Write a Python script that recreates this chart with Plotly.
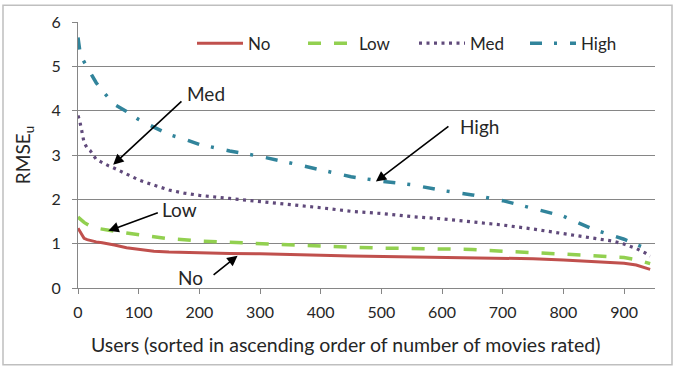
import plotly.graph_objects as go

users = [0, 3, 6, 10, 15, 20, 30, 40, 50, 60, 80, 100, 125, 150, 175, 200, 250, 300, 350,
         400, 450, 500, 550, 600, 650, 700, 750, 800, 850, 880, 900, 920, 935, 943]

rmse_no = [1.35, 1.28, 1.20, 1.12, 1.09, 1.07, 1.04, 1.02, 1.00, 0.97, 0.91, 0.88, 0.83, 0.81,
           0.80, 0.80, 0.78, 0.77, 0.76, 0.74, 0.72, 0.71, 0.70, 0.69, 0.68, 0.67, 0.66, 0.63,
           0.60, 0.57, 0.56, 0.52, 0.45, 0.42]

rmse_low = [1.60, 1.56, 1.52, 1.48, 1.44, 1.40, 1.35, 1.32, 1.30, 1.28, 1.24, 1.20, 1.15, 1.11,
            1.09, 1.06, 1.03, 1.00, 0.97, 0.94, 0.92, 0.90, 0.89, 0.88, 0.87, 0.83, 0.80, 0.77,
            0.73, 0.70, 0.69, 0.64, 0.58, 0.55]

rmse_med = [3.89, 3.76, 3.56, 3.28, 3.16, 3.10, 2.90, 2.82, 2.76, 2.70, 2.57, 2.44, 2.32, 2.21,
            2.14, 2.09, 2.02, 1.95, 1.89, 1.81, 1.73, 1.68, 1.61, 1.56, 1.49, 1.42, 1.33, 1.23,
            1.13, 1.06, 0.99, 0.89, 0.79, 0.72]

rmse_high = [5.65, 5.35, 5.20, 5.10, 4.98, 4.85, 4.63, 4.45, 4.30, 4.14, 3.98, 3.80, 3.63, 3.46,
             3.36, 3.24, 3.09, 2.97, 2.82, 2.66, 2.51, 2.41, 2.33, 2.20, 2.10, 1.97, 1.80, 1.62,
             1.32, 1.19, 1.10, 0.98, 0.90, None]

series_names = ["No", "Low", "Med", "High"]
x_ticks = [0, 100, 200, 300, 400, 500, 600, 700, 800, 900]
y_ticks = [0, 1, 2, 3, 4, 5, 6]
x_title = "Users (sorted in ascending order of number of movies rated)"

FONT = "Lato"
TXT = "#262626"

fig = go.Figure()
fig.add_trace(go.Scatter(x=users, y=rmse_no, name=series_names[0], mode="lines",
                         line=dict(color="#C0504D", width=3)))
fig.add_trace(go.Scatter(x=users, y=rmse_low, name=series_names[1], mode="lines",
                         line=dict(color="#92D050", width=3.5, dash="13px,13px")))
fig.add_trace(go.Scatter(x=users, y=rmse_med, name=series_names[2], mode="lines",
                         line=dict(color="#604A7B", width=3.2, dash="3px,4.5px")))
fig.add_trace(go.Scatter(x=users, y=rmse_high, name=series_names[3], mode="lines",
                         line=dict(color="#31849B", width=3.5, dash="12px,12px,3px,13px")))

# annotations: label text + separate arrow (tip -> tail)
labels = [
    # text, text_x, text_y, tip_x, tip_y, tail_x, tail_y
    ("Med", 176, 4.38, 58, 2.78, 173, 4.24),
    ("High", 626, 3.64, 491, 2.40, 613, 3.67),
    ("Low", 135, 1.76, 50, 1.29, 134, 1.71),
    ("No", 161, 0.24, 263, 0.73, 221, 0.27),
]
anns = []
for t, tx, ty, px, py, ax, ay in labels:
    anns.append(dict(x=px, y=py, ax=ax, ay=ay, xref="x", yref="y", axref="x", ayref="y",
                     text="", showarrow=True, arrowhead=2, arrowsize=1.3, arrowwidth=1.6,
                     arrowcolor="#000000"))
    anns.append(dict(x=tx, y=ty, xref="x", yref="y", text=t, showarrow=False,
                     xanchor="left", yanchor="middle",
                     font=dict(family=FONT, size=19, color=TXT)))

# x-axis title (Excel centres it on the chart area, slightly left of the plot centre)
anns.append(dict(x=(345 - 78) / 577, y=(288 - 345) / 270, xref="paper", yref="paper",
                 text=x_title, showarrow=False, xanchor="center", yanchor="middle",
                 font=dict(family=FONT, size=19.5, color=TXT)))

fig.update_layout(
    width=674, height=370,
    margin=dict(l=78, r=19, t=18, b=82),
    paper_bgcolor="white", plot_bgcolor="white",
    font=dict(family=FONT, size=16, color=TXT),
    showlegend=True,
    legend=dict(orientation="h", x=(192 - 78) / 577, y=(288 - 40) / 270,
                xanchor="left", yanchor="middle",
                bgcolor="rgba(0,0,0,0)", font=dict(family=FONT, size=17, color=TXT),
                itemwidth=46, entrywidth=50, entrywidthmode="pixels"),
    annotations=anns,
    shapes=[dict(type="rect", xref="paper", yref="paper",
                 x0=(3 - 78) / 577, x1=(672 - 78) / 577,
                 y0=(288 - 366) / 270, y1=(288 - 1) / 270,
                 line=dict(color="#BFBFBF", width=1.5), layer="below")],
)
fig.update_xaxes(range=[0, 951], tickvals=x_ticks, showgrid=False, zeroline=False,
                 showline=True, linecolor="#868686", linewidth=1,
                 ticks="outside", ticklen=5, tickcolor="#868686", ticklabelstandoff=5,
                 tickfont=dict(family=FONT, size=16, color=TXT))
fig.update_yaxes(range=[0, 6], tickvals=y_ticks, showgrid=True, gridcolor="#868686",
                 gridwidth=1, zeroline=False, showline=True, linecolor="#868686",
                 ticks="outside", ticklen=5, tickcolor="#868686", ticklabelstandoff=8,
                 title=dict(text="RMSE<sub>u</sub>", font=dict(family=FONT, size=19, color=TXT),
                            standoff=15),
                 tickfont=dict(family=FONT, size=16, color=TXT))

fig.write_html("out.html")
